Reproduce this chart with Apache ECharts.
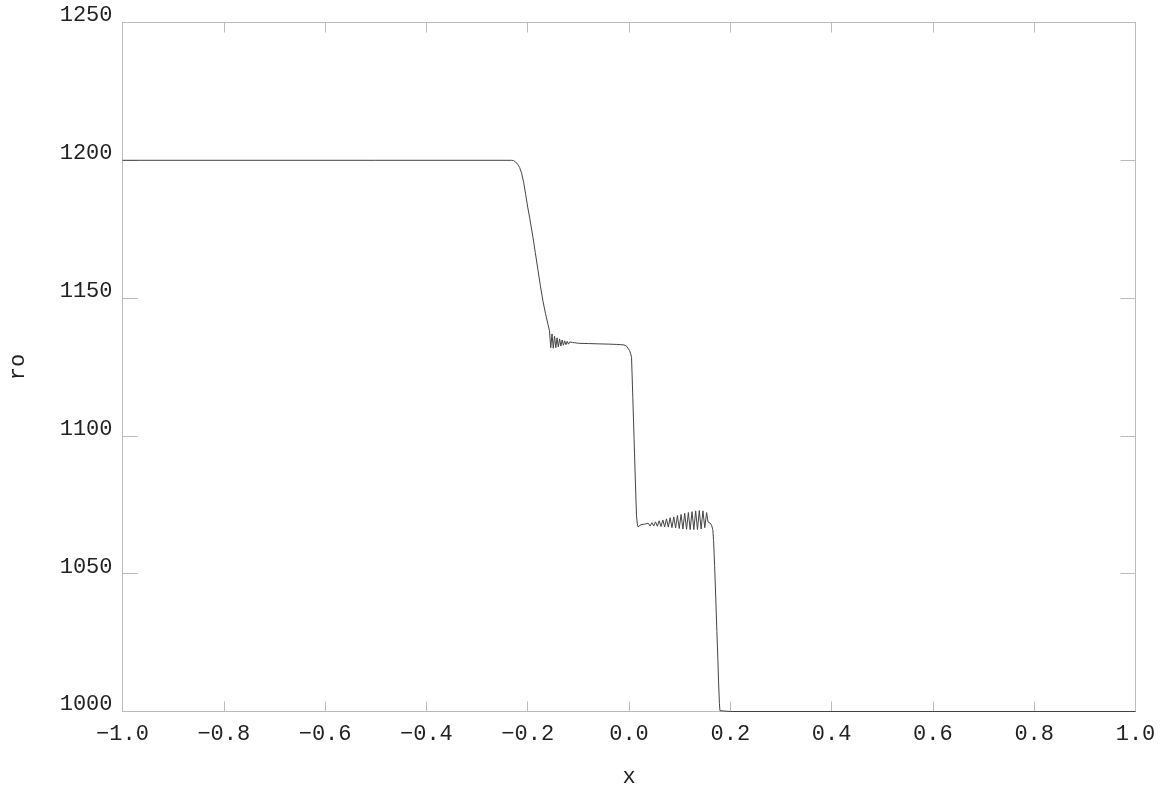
<!DOCTYPE html>
<html>
<head>
<meta charset="utf-8">
<script src="https://cdn.jsdelivr.net/npm/echarts@6/dist/echarts.min.js"></script>
<style>
html,body{margin:0;padding:0;background:#fff;}
#chart{width:1162px;height:788px;}
</style>
</head>
<body>
<div id="chart"></div>
<script>
// ---- data (x, ro) ----
var leftPlateau = [[-1.0,1200],[-0.5,1200],[-0.232,1200]];
var firstDrop = [[-0.228,1199.9],[-0.224,1199.4],[-0.220,1198.6],[-0.216,1197.4],[-0.212,1195.3],[-0.208,1192.0],[-0.204,1187.6],[-0.200,1183.0],[-0.196,1179.0],[-0.190,1172.5],[-0.185,1166.5],[-0.180,1160.5],[-0.175,1154.5],[-0.170,1149.0],[-0.165,1144.5],[-0.160,1140.5],[-0.157,1138.2]];
var firstRipple = [[-0.1545,1132.0],[-0.152,1137.0],[-0.1495,1131.8],[-0.147,1136.2],[-0.1445,1132.0],[-0.142,1135.6],[-0.1395,1132.3],[-0.137,1135.2],[-0.1345,1132.6],[-0.132,1134.8],[-0.1295,1132.9],[-0.127,1134.5],[-0.1245,1133.1],[-0.122,1134.3],[-0.1195,1133.3],[-0.117,1134.1],[-0.1145,1133.4],[-0.112,1133.9],[-0.1095,1133.5],[-0.107,1133.8]];
var midPlateau = [[-0.100,1133.6],[-0.080,1133.5],[-0.060,1133.4],[-0.040,1133.3],[-0.025,1133.2],[-0.010,1133.0],[-0.005,1132.6],[-0.002,1132.0],[0.001,1131.0],[0.003,1130.0],[0.005,1128.5]];
var secondDrop = [[0.0075,1114.0],[0.010,1099.0],[0.0125,1084.0],[0.0148,1071.0],[0.0165,1068.0],[0.018,1067.0],[0.020,1067.3]];
var secondRipple = [[0.0236,1067.8],[0.0272,1067.3],[0.0308,1068.0],[0.0344,1067.3],[0.0380,1068.3],[0.0416,1067.3],[0.0452,1068.5],[0.0488,1067.3],[0.0524,1068.8],[0.0560,1067.2],[0.0596,1069.2],[0.0632,1067.1],[0.0668,1069.5],[0.0704,1067.0],[0.0740,1069.9],[0.0776,1066.9],[0.0812,1070.3],[0.0848,1066.7],[0.0884,1070.6],[0.0920,1066.6],[0.0956,1071.1],[0.0992,1066.4],[0.1028,1071.5],[0.1064,1066.2],[0.1100,1071.9],[0.1136,1066.1],[0.1172,1072.2],[0.1208,1066.0],[0.1244,1072.5],[0.1280,1066.0],[0.1316,1072.8],[0.1352,1066.0],[0.1388,1072.9],[0.1424,1066.2],[0.1460,1072.8],[0.1496,1066.7],[0.1532,1072.2],[0.1560,1068.8]];
var thirdDrop = [[0.160,1068.4],[0.163,1067.6],[0.1655,1066.0],[0.167,1062.0],[0.169,1053.0],[0.1714,1040.5],[0.1735,1029.0],[0.1755,1018.5],[0.177,1010.0],[0.1785,1003.0],[0.1795,1000.3],[0.181,1000.0]];
var rightPlateau = [[0.2,1000],[0.6,1000],[1.0,1000]];

var xRange = [-1.0, 1.0], xStep = 0.2;
var yRange = [1000, 1250], yStep = 50;
var xTitle = 'x', yTitle = 'ro';

var curve = [].concat(leftPlateau, firstDrop, firstRipple, midPlateau, secondDrop, secondRipple, thirdDrop, rightPlateau);

var FONT = 'Liberation Mono';
var frameColor = '#bbbbbb';
var textColor = '#222222';

function fmtX(v){ var s = Math.abs(v).toFixed(1); return (v < -1e-9 ? '\u2212' : '') + s; }
function fmtY(v){ return String(Math.round(v)); }

var chart = echarts.init(document.getElementById('chart'), null, {renderer:'canvas'});
var common = {
  axisLine:{show:true, onZero:false, lineStyle:{color:frameColor, width:1}},
  splitLine:{show:false}
};
chart.setOption({
  animation:false,
  backgroundColor:'#ffffff',
  grid:{left:122.5, right:26.5, top:22.5, bottom:76.5, containLabel:false, outerBoundsMode:'none'},
  xAxis:[
    Object.assign({}, common, {
      type:'value', min:xRange[0], max:xRange[1], interval:xStep, position:'bottom',
      axisTick:{show:true, inside:true, length:10, lineStyle:{color:frameColor}},
      axisLabel:{formatter:fmtX, fontFamily:FONT, fontSize:22, color:textColor, margin:12, showMinLabel:true, showMaxLabel:true},
      name:xTitle, nameLocation:'middle', nameGap:55,
      nameTextStyle:{fontFamily:FONT, fontSize:22, color:textColor}
    }),
    Object.assign({}, common, {
      type:'value', min:xRange[0], max:xRange[1], interval:xStep, position:'top',
      axisTick:{show:true, inside:true, length:10, lineStyle:{color:frameColor}},
      axisLabel:{show:false}
    })
  ],
  yAxis:[
    Object.assign({}, common, {
      type:'value', min:yRange[0], max:yRange[1], interval:yStep, position:'left',
      axisTick:{show:true, inside:true, length:15, lineStyle:{color:frameColor}},
      axisLabel:{formatter:fmtY, fontFamily:FONT, fontSize:22, color:textColor, margin:10, verticalAlign:'bottom', lineHeight:14},
      name:yTitle, nameLocation:'middle', nameGap:93, nameRotate:90,
      nameTextStyle:{fontFamily:FONT, fontSize:22, color:textColor}
    }),
    Object.assign({}, common, {
      type:'value', min:yRange[0], max:yRange[1], interval:yStep, position:'right',
      axisTick:{show:true, inside:true, length:15, lineStyle:{color:frameColor}},
      axisLabel:{show:false}
    })
  ],
  series:[{
    type:'line', xAxisIndex:0, yAxisIndex:0, data:curve,
    showSymbol:false, symbol:'none', smooth:false,
    lineStyle:{color:'#444444', width:1},
    z:3
  }]
});
</script>
</body>
</html>
